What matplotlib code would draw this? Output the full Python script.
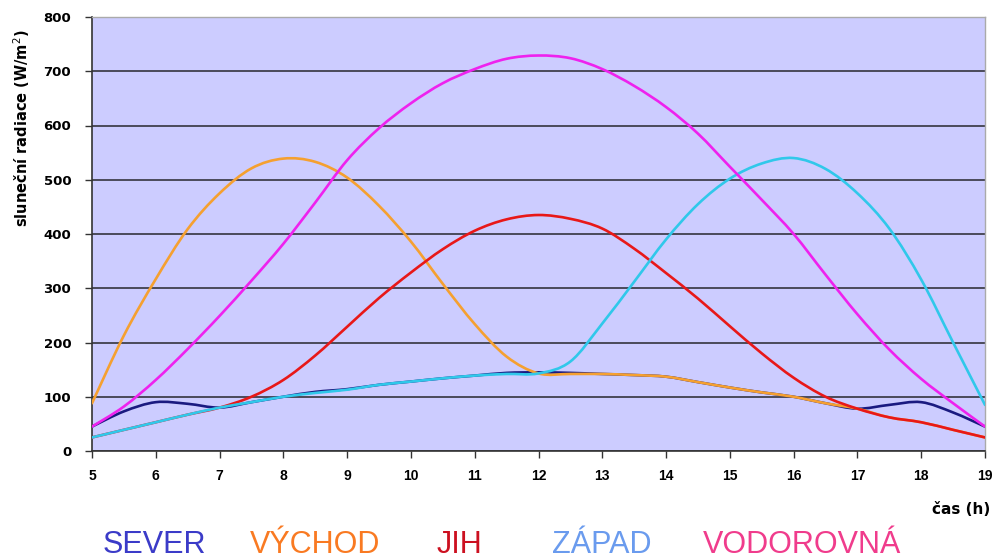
import matplotlib
matplotlib.use("Agg")
import matplotlib.pyplot as plt
from matplotlib.path import Path
from matplotlib.patches import PathPatch

hours = [5, 5.5, 6, 6.5, 7, 7.5, 8, 8.5, 9, 9.5, 10, 10.5, 11, 11.5, 12,
         12.5, 13, 13.5, 14, 14.5, 15, 15.5, 16, 16.5, 17, 17.5, 18, 18.5, 19]

sever = [45, 73, 90, 87, 80, 90, 100, 109, 114, 122, 128, 134, 139, 144, 145,
         144, 142, 140, 137, 127, 117, 108, 100, 88, 78, 85, 90, 71, 45]
vychod = [88, 213, 317, 409, 475, 521, 539, 533, 504, 452, 386, 308, 234, 174, 143,
          142, 142, 140, 137, 127, 117, 108, 100, 88, 78, 62, 53, 39, 25]
jih = [25, 39, 53, 67, 80, 100, 131, 176, 229, 282, 329, 372, 406, 427, 435,
       428, 410, 373, 328, 281, 230, 180, 135, 100, 78, 62, 53, 39, 25]
zapad = [25, 39, 53, 67, 80, 90, 100, 107, 113, 122, 128, 134, 139, 142, 143,
         165, 235, 312, 390, 455, 502, 530, 540, 520, 475, 410, 316, 200, 85]
vodorovna = [45, 82, 131, 188, 249, 314, 382, 458, 536, 595, 641, 678, 704, 723, 729,
             724, 704, 673, 634, 585, 524, 463, 400, 325, 252, 187, 133, 88, 45]

series_names = ["SEVER", "VÝCHOD", "JIH", "ZÁPAD", "VODOROVNÁ"]
line_colors = ["#1a1a80", "#f5a030", "#e81818", "#30c8ea", "#ee22ee"]
text_colors = ["#3b3bc8", "#f97a22", "#cc1020", "#6a9bee", "#f03c8c"]
xticks = list(range(5, 20))
yticks = list(range(0, 801, 100))


def smooth_path(xs, ys):
    """Catmull-Rom style Bezier path through the given points (Excel-like smoothing)."""
    n = len(xs)
    verts = [(xs[0], ys[0])]
    codes = [Path.MOVETO]
    for i in range(n - 1):
        x0, y0 = (xs[i - 1], ys[i - 1]) if i > 0 else (xs[i], ys[i])
        x1, y1 = xs[i], ys[i]
        x2, y2 = xs[i + 1], ys[i + 1]
        x3, y3 = (xs[i + 2], ys[i + 2]) if i + 2 < n else (x2, y2)
        c1 = (x1 + (x2 - x0) / 6.0, y1 + (y2 - y0) / 6.0)
        c2 = (x2 - (x3 - x1) / 6.0, y2 - (y3 - y1) / 6.0)
        verts += [c1, c2, (x2, y2)]
        codes += [Path.CURVE4] * 3
    return Path(verts, codes)


plt.rcParams['font.family'] = ['Liberation Sans', 'DejaVu Sans']

fig = plt.figure(figsize=(9.97, 5.59), dpi=100)
ax = fig.add_axes([92/997, 1-451/559, (985-92)/997, (451-17)/559])
ax.set_facecolor("#ccccff")

for data, col in zip([sever, vychod, jih, zapad, vodorovna], line_colors):
    patch = PathPatch(smooth_path(hours, data), facecolor='none', edgecolor=col,
                      lw=1.9, joinstyle='round', capstyle='round',
                      transform=ax.transData, zorder=3)
    ax.add_patch(patch)

ax.set_xlim(5, 19)
ax.set_ylim(0, 800)
ax.set_xticks(xticks)
ax.set_yticks(yticks)
ax.set_xticklabels([str(t) for t in xticks], fontsize=10, fontweight='bold')
ax.set_yticklabels([str(t) for t in yticks], fontsize=9.5, fontweight='bold',
                   family='DejaVu Sans')
ax.tick_params(axis='both', direction='out', length=5, width=1, color='#333333')
ax.tick_params(axis='x', pad=8)
ax.tick_params(axis='y', pad=10)
ax.yaxis.grid(True, color='#4a4a5a', lw=1.4, zorder=1)
ax.set_axisbelow(True)
for s in ['left', 'bottom']:
    ax.spines[s].set_color('#333333')
    ax.spines[s].set_linewidth(1.2)
for s in ['top', 'right']:
    ax.spines[s].set_color('#aaaaaa')
    ax.spines[s].set_linewidth(1.0)

fig.text(0.022, 1-128/559, "sluneční radiace (W/m$^2$)", rotation=90,
         fontsize=10.5, fontweight='bold', family='DejaVu Sans',
         ha='center', va='center')
fig.text(990/997, 1-509/559, "čas (h)", fontsize=11, fontweight='bold',
         family='DejaVu Sans', ha='right', va='center')

legend_x = [103, 250, 437, 552, 703]
for name, col, lx in zip(series_names, text_colors, legend_x):
    fig.text(lx/997, 1-553/559, name, color=col, fontsize=22,
             ha='left', va='baseline')

fig.savefig("out.png", dpi=100, facecolor='white')
